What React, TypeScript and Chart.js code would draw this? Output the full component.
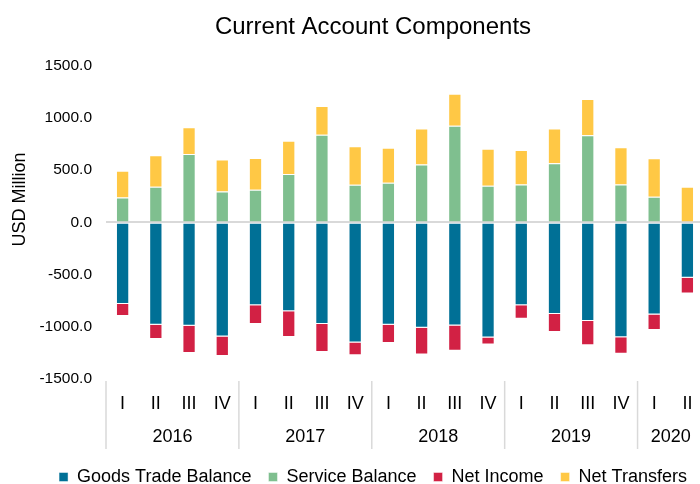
import React, { useEffect, useRef } from "react";
import { Chart, registerables } from "chart.js";

Chart.register(...registerables);

const quarterLabels = ["I", "II", "III", "IV", "I", "II", "III", "IV", "I", "II", "III", "IV", "I", "II", "III", "IV", "I", "II"];
const yearLabels = ["2016", "2016", "2016", "2016", "2017", "2017", "2017", "2017", "2018", "2018", "2018", "2018", "2019", "2019", "2019", "2019", "2020", "2020"];

const goodsTrade = [-781, -981, -991, -1094, -793, -850, -972, -1150, -981, -1009, -987, -1103, -793, -878, -944, -1100, -881, -530];
const serviceBalance = [238, 342, 655, 295, 313, 464, 840, 361, 379, 555, 925, 351, 364, 567, 834, 364, 245, 0];
const netIncome = [-116, -135, -260, -185, -179, -247, -269, -123, -173, -257, -242, -66, -129, -172, -232, -157, -150, -150];
const netTransfers = [257, 301, 257, 307, 305, 317, 276, 369, 336, 345, 307, 354, 329, 333, 348, 357, 369, 342];

const yTicks = [-1500, -1000, -500, 0, 500, 1000, 1500];

const FONT = "'Liberation Sans', Arial, Helvetica, sans-serif";

const yearAxisPlugin = {
  id: "yearAxis",
  afterDraw(chart: any) {
    const { ctx, chartArea } = chart;
    const xs = chart.scales.x;
    const half = (xs.getPixelForValue(1) - xs.getPixelForValue(0)) / 2;
    const groups: { year: string; first: number; last: number }[] = [];
    yearLabels.forEach((y, i) => {
      const g = groups[groups.length - 1];
      if (g && g.year === y) g.last = i;
      else groups.push({ year: y, first: i, last: i });
    });
    ctx.save();
    ctx.strokeStyle = "#d9d9d9";
    ctx.lineWidth = 1.5;
    const top = chartArea.bottom + 2;
    const bottom = chartArea.bottom + 70;
    groups.forEach((g, gi) => {
      const left = xs.getPixelForValue(g.first) - half;
      const right = xs.getPixelForValue(g.last) + half;
      ctx.beginPath();
      ctx.moveTo(left, top);
      ctx.lineTo(left, bottom);
      ctx.stroke();
      if (gi === groups.length - 1) {
        ctx.beginPath();
        ctx.moveTo(right, top);
        ctx.lineTo(right, bottom);
        ctx.stroke();
      }
      ctx.fillStyle = "#000";
      ctx.font = `18px ${FONT}`;
      ctx.textAlign = "center";
      ctx.textBaseline = "middle";
      ctx.fillText(g.year, (left + right) / 2, chartArea.bottom + 58);
    });
    ctx.translate(chartArea.left - 86, (chartArea.top + chartArea.bottom) / 2 - 23);
    ctx.rotate(-Math.PI / 2);
    ctx.fillStyle = "#000";
    ctx.font = `18px ${FONT}`;
    ctx.textAlign = "center";
    ctx.textBaseline = "middle";
    ctx.fillText("USD Million", 0, 0);
    ctx.restore();
  },
};

export default function App() {
  const canvasRef = useRef<HTMLCanvasElement | null>(null);

  useEffect(() => {
    if (!canvasRef.current) return;
    const border = "rgba(255,255,255,0.45)";
    const chart = new Chart(canvasRef.current, {
      type: "bar",
      data: {
        labels: quarterLabels,
        datasets: [
          { label: "Goods Trade Balance", data: goodsTrade, backgroundColor: "#007096", borderColor: border, borderWidth: 1 },
          { label: "Service Balance", data: serviceBalance, backgroundColor: "#7fbf8f", borderColor: border, borderWidth: 1 },
          { label: "Net Income", data: netIncome, backgroundColor: "#d22144", borderColor: border, borderWidth: 1 },
          { label: "Net Transfers", data: netTransfers, backgroundColor: "#ffc845", borderColor: border, borderWidth: 1 },
        ],
      },
      options: {
        responsive: false,
        animation: false,
        devicePixelRatio: 1,
        layout: { padding: { left: 0, right: 0, top: 0, bottom: -12 } },
        datasets: { bar: { categoryPercentage: 1, barPercentage: 0.4 } },
        plugins: {
          title: {
            display: true,
            text: "Current Account Components",
            color: "#000",
            font: { family: FONT, size: 24, weight: "normal" },
            padding: { top: 13, bottom: 24 },
          },
          legend: {
            position: "bottom",
            labels: {
              color: "#000",
              font: { family: FONT, size: 18 },
              boxWidth: 9,
              boxHeight: 9,
              padding: 17,
            },
          },
          tooltip: { enabled: false },
        },
        scales: {
          x: {
            stacked: true,
            grid: { display: false, drawTicks: false },
            border: { display: false },
            ticks: { color: "#000", font: { family: FONT, size: 18 }, padding: 14, maxRotation: 0, autoSkip: false },
            afterFit(scale: any) {
              scale.height = 72;
            },
          },
          y: {
            stacked: true,
            min: -1500,
            max: 1500,
            afterBuildTicks(scale: any) {
              scale.ticks = yTicks.map((v) => ({ value: v }));
            },
            grid: {
              drawTicks: false,
              color: (c: any) => (c.tick && c.tick.value === 0 ? "#d9d9d9" : "rgba(0,0,0,0)"),
              lineWidth: 2,
            },
            border: { display: false },
            ticks: {
              color: "#000",
              font: { family: FONT, size: 15.5 },
              padding: 14,
              callback: (v: any) => Number(v).toFixed(1),
            },
            afterFit(scale: any) {
              scale.width = 106;
            },
          },
          yRight: {
            position: "right",
            display: true,
            grid: { display: false, drawTicks: false },
            border: { display: false },
            ticks: { display: false },
            afterFit(scale: any) {
              scale.width = 42;
            },
          },
        },
      },
      plugins: [yearAxisPlugin],
    });
    return () => chart.destroy();
  }, []);

  return (
    <div style={{ position: "fixed", left: 0, top: 0, width: 700, height: 484, overflow: "hidden", background: "#fff" }}>
      <canvas ref={canvasRef} width={746} height={484} style={{ width: 746, height: 484, display: "block" }} />
    </div>
  );
}
